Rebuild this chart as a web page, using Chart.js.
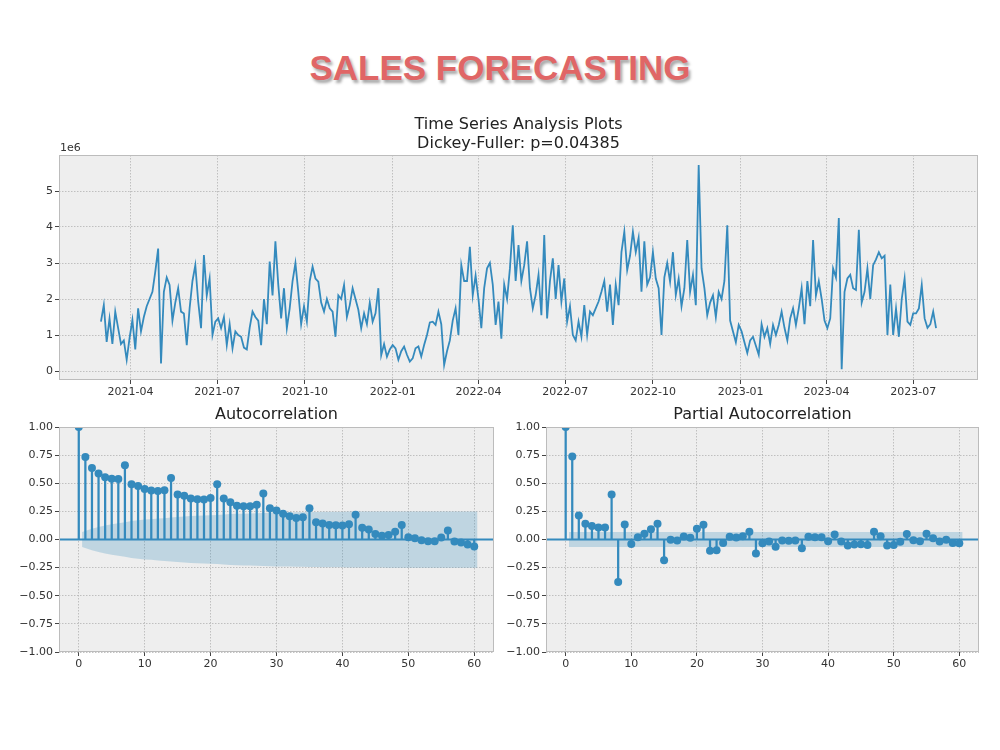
<!DOCTYPE html>
<html>
<head>
<meta charset="utf-8">
<script src="https://cdn.jsdelivr.net/npm/chart.js@4.4.1/dist/chart.umd.min.js"></script>
<style>
body{margin:0;background:#fff;width:1000px;height:750px;position:relative;overflow:hidden;font-family:"DejaVu Sans",sans-serif;}
#mainTitle{position:absolute;left:0;top:47px;width:1000px;line-height:42px;text-align:center;font-family:"Liberation Sans",Arial,sans-serif;font-weight:bold;font-size:35px;color:#e06666;text-shadow:2px 3px 3px rgba(0,0,0,0.35);}
canvas{position:absolute;}
</style>
</head>
<body>
<div id="mainTitle">SALES FORECASTING</div>
<canvas id="tsChart" width="1000" height="310" style="left:0;top:100px"></canvas>
<canvas id="acfChart" width="500" height="290" style="left:0;top:400px"></canvas>
<canvas id="pacfChart" width="500" height="290" style="left:500px;top:400px"></canvas>
<script>
// daily sales (in millions), sampled every 3 days from 2021-03-01
const startDate = '2021-03-01';
const stepDays = 3;
const sales = [
  1.37, 1.83, 0.81, 1.46, 0.75, 1.65, 1.2, 0.75, 0.85, 0.31,
  0.91, 1.42, 0.6, 1.74, 1.1, 1.5, 1.8, 2.0, 2.2, 2.76,
  3.4, 0.21, 2.2, 2.6, 2.39, 1.4, 1.9, 2.3, 1.65, 1.6,
  0.72, 1.74, 2.5, 2.94, 1.93, 1.19, 3.22, 2.1, 2.57, 1.0,
  1.37, 1.46, 1.19, 1.5, 0.72, 1.3, 0.63, 1.1, 1.0,
  0.95, 0.65, 0.6, 1.2, 1.65, 1.5, 1.4, 0.72, 2.0, 1.3,
  3.04, 2.1, 3.6, 2.4, 1.46, 2.3, 1.19, 1.74, 2.5, 3.0,
  2.2, 1.3, 1.8, 1.37, 2.5, 2.9, 2.57, 2.48, 1.9, 1.65,
  2.0, 1.74, 1.65, 0.95, 2.1, 2.0, 2.39, 1.5, 1.83, 2.3,
  2.0, 1.7, 1.19, 1.6, 1.3, 1.9, 1.37, 1.6, 2.3, 0.44,
  0.75, 0.4, 0.6, 0.72, 0.63, 0.31, 0.55, 0.68, 0.45, 0.26,
  0.35, 0.63, 0.68, 0.4, 0.72, 1.0, 1.35, 1.37, 1.28, 1.65,
  1.3, 0.17, 0.55, 0.85, 1.4, 1.74, 1.0, 2.94, 2.5, 2.5,
  3.45, 2.1, 2.65, 2.0, 1.19, 2.3, 2.85, 3.0, 2.4, 1.28,
  1.93, 0.9, 2.4, 2.0, 2.85, 4.05, 2.5, 3.5, 2.5, 2.94,
  3.6, 2.3, 1.74, 2.11, 2.67, 1.55, 3.78, 1.46, 2.5, 3.13,
  2.0, 2.94, 1.93, 2.57, 1.37, 1.8, 1.0, 0.85, 1.37, 0.95,
  1.83, 1.0, 1.65, 1.55, 1.74, 1.93, 2.2, 2.5, 1.65, 2.4,
  1.28, 2.4, 1.83, 3.3, 3.87, 2.8, 3.2, 3.87, 3.3, 3.7,
  2.2, 3.6, 2.4, 2.6, 3.3, 2.57, 2.3, 1.0, 2.6, 3.0,
  2.48, 3.3, 2.11, 2.57, 1.8, 2.3, 3.64, 2.2, 2.67, 1.83,
  5.72, 2.85, 2.3, 1.55, 1.9, 2.1, 1.5, 2.2, 2.0, 2.5,
  4.05, 1.4, 1.1, 0.8, 1.28, 1.1, 0.8, 0.5, 0.85, 0.95,
  0.7, 0.45, 1.3, 0.95, 1.19, 0.75, 1.28, 1.0, 1.28, 1.65,
  1.2, 0.85, 1.46, 1.74, 1.28, 1.74, 2.3, 1.3, 2.5, 1.8,
  3.64, 2.1, 2.5, 2.0, 1.4, 1.19, 1.46, 2.85, 2.6, 4.25,
  0.05, 2.2, 2.57, 2.67, 2.3, 2.25, 3.92, 1.9, 2.2, 2.85,
  2.0, 2.94, 3.1, 3.3, 3.13, 3.2, 1.0, 2.4, 1.0, 1.74,
  0.95, 2.0, 2.57, 1.37, 1.28, 1.6, 1.6, 1.74, 2.39, 1.46,
  1.2, 1.3, 1.65, 1.19
];
const dateTicks = ['2021-04', '2021-07', '2021-10', '2022-01', '2022-04', '2022-07', '2022-10', '2023-01', '2023-04', '2023-07'];
const salesTicks = [0, 1, 2, 3, 4, 5];

const acf = [
  1.0, 0.734, 0.636, 0.586, 0.553, 0.541, 0.538, 0.66, 0.491, 0.476,
  0.45, 0.435, 0.432, 0.438, 0.547, 0.40, 0.388, 0.364, 0.358, 0.355,
  0.37, 0.491, 0.364, 0.331, 0.30, 0.296, 0.296, 0.308, 0.408, 0.278,
  0.257, 0.228, 0.207, 0.192, 0.198, 0.278, 0.154, 0.142, 0.13, 0.127,
  0.124, 0.136, 0.219, 0.104, 0.089, 0.05, 0.033, 0.041, 0.068, 0.13,
  0.021, 0.012, -0.006, -0.015, -0.015, 0.018, 0.08, -0.018, -0.027, -0.044,
  -0.062
];
// half width of the confidence band for lags 1..60
const acfBand = [
  0.066, 0.095, 0.112, 0.125, 0.135, 0.144, 0.153, 0.165, 0.171, 0.177,
  0.181, 0.186, 0.19, 0.195, 0.201, 0.205, 0.208, 0.211, 0.213, 0.216,
  0.218, 0.223, 0.226, 0.228, 0.23, 0.231, 0.233, 0.235, 0.238, 0.239,
  0.24, 0.241, 0.242, 0.243, 0.244, 0.245, 0.246, 0.246, 0.247, 0.247,
  0.248, 0.248, 0.249, 0.249, 0.249, 0.249, 0.25, 0.25, 0.25, 0.25,
  0.25, 0.25, 0.25, 0.25, 0.25, 0.25, 0.25, 0.25, 0.25, 0.25
];
const pacf = [
  1.0, 0.738, 0.214, 0.14, 0.119, 0.107, 0.107, 0.399, -0.378, 0.134,
  -0.039, 0.021, 0.051, 0.092, 0.14, -0.185, -0.003, -0.009, 0.027, 0.015,
  0.095, 0.131, -0.101, -0.095, -0.03, 0.024, 0.018, 0.03, 0.068, -0.125,
  -0.033, -0.018, -0.065, -0.009, -0.012, -0.009, -0.077, 0.024, 0.021, 0.021,
  -0.015, 0.045, -0.018, -0.054, -0.045, -0.042, -0.048, 0.068, 0.03, -0.054,
  -0.048, -0.021, 0.048, -0.006, -0.015, 0.051, 0.012, -0.018, -0.003, -0.03,
  -0.033
];
const pacfBand = 0.066;
const lagTicks = [0, 10, 20, 30, 40, 50, 60];
const corrTicks = [-1, -0.75, -0.5, -0.25, 0, 0.25, 0.5, 0.75, 1];

const blue = '#348ABD';
const tickFont = {family: 'DejaVu Sans', size: 11};
const titleFont = {family: 'DejaVu Sans', size: 16, weight: 'normal', lineHeight: 1.2};

const toDay = s => {
  const p = s.split('-').map(Number);
  return Date.UTC(p[0], p[1] - 1, p[2] || 1) / 864e5;
};

const bmh = {
  id: 'bmh',
  beforeDraw(chart) {
    const {ctx, chartArea: a} = chart;
    ctx.save();
    ctx.fillStyle = '#eeeeee';
    ctx.fillRect(a.left, a.top, a.right - a.left, a.bottom - a.top);
    ctx.restore();
  },
  afterDatasetsDraw(chart, args, opts) {
    const {ctx, chartArea: a} = chart;
    if (opts.zeroLine) {
      const y = chart.scales.y.getPixelForValue(0);
      ctx.save();
      ctx.strokeStyle = blue;
      ctx.lineWidth = 2;
      ctx.beginPath();
      ctx.moveTo(a.left, y);
      ctx.lineTo(a.right, y);
      ctx.stroke();
      ctx.restore();
    }
  },
  afterDraw(chart, args, opts) {
    const {ctx, chartArea: a} = chart;
    ctx.save();
    ctx.strokeStyle = '#bcbcbc';
    ctx.lineWidth = 1;
    ctx.strokeRect(a.left + 0.5, a.top + 0.5, a.right - a.left - 1, a.bottom - a.top - 1);
    if (opts.offsetText) {
      ctx.fillStyle = '#333';
      ctx.font = '11px "DejaVu Sans"';
      ctx.textBaseline = 'middle';
      ctx.fillText(opts.offsetText, a.left + 1, a.top - 7);
    }
    ctx.restore();
  }
};

function axisStyle(extra) {
  return Object.assign({
    grid: {color: '#b2b2b2', lineWidth: 0.8, offset: false, tickColor: '#444', tickLength: 4, tickWidth: 1},
    border: {display: false, dash: [1.5, 1.5]},
    ticks: {font: tickFont, color: '#333', padding: 2, maxRotation: 0, autoSkip: false}
  }, extra);
}

// time series
const t0 = toDay(startDate);
const salesPts = sales.map((v, i) => ({x: t0 + i * stepDays, y: v}));
const tLast = salesPts[salesPts.length - 1].x;

new Chart(document.getElementById('tsChart'), {
  type: 'line',
  data: {
    datasets: [{
      data: salesPts,
      borderColor: blue,
      borderWidth: 1.8,
      pointRadius: 0,
      tension: 0
    }]
  },
  options: {
    responsive: false,
    animation: false,
    layout: {padding: {left: 0, right: 22, top: 0, bottom: 0}},
    scales: {
      x: axisStyle({
        type: 'linear',
        min: t0 - 44,
        max: tLast + 44,
        afterBuildTicks: s => { s.ticks = dateTicks.map(d => ({value: toDay(d)})); },
        ticks: {font: tickFont, color: '#333', padding: 2, maxRotation: 0, autoSkip: false,
          callback: (v, i) => dateTicks[i]},
        afterFit: s => { s.height = 30; }
      }),
      y: axisStyle({
        min: -0.25,
        max: 6.0,
        afterBuildTicks: s => { s.ticks = salesTicks.map(v => ({value: v})); },
        afterFit: s => { s.width = 59; }
      })
    },
    plugins: {
      legend: {display: false},
      tooltip: {enabled: false},
      title: {
        display: true,
        fullSize: false,
        text: ['Time Series Analysis Plots', 'Dickey-Fuller: p=0.04385'],
        font: titleFont,
        color: '#222',
        padding: {top: 15, bottom: 1.6}
      },
      bmh: {offsetText: '1e6'}
    }
  },
  plugins: [bmh]
});

// correlation plots
function corrChart(id, title, values, band, rightPad, yWidth) {
  const n = values.length - 1;
  const bandPts = band.map((b, i) => {
    let x = i + 1;
    if (i === 0) x -= 0.5;
    if (i === band.length - 1) x += 0.5;
    return {x: x, b: b};
  });
  new Chart(document.getElementById(id), {
    type: 'bar',
    data: {
      datasets: [
        {
          type: 'line',
          data: bandPts.map(p => ({x: p.x, y: p.b})),
          borderWidth: 0,
          pointRadius: 0,
          fill: '+1',
          backgroundColor: 'rgba(52,138,189,0.25)',
          order: 10
        },
        {
          type: 'line',
          data: bandPts.map(p => ({x: p.x, y: -p.b})),
          borderWidth: 0,
          pointRadius: 0,
          fill: false,
          order: 9
        },
        {
          type: 'bar',
          data: values.map((v, i) => ({x: i, y: v})),
          backgroundColor: blue,
          barThickness: 1.6,
          borderWidth: 0,
          order: 5
        },
        {
          type: 'line',
          data: values.map((v, i) => ({x: i, y: v})),
          showLine: false,
          pointRadius: 4,
          pointBackgroundColor: blue,
          pointBorderWidth: 0,
          clip: 0,
          order: 1
        }
      ]
    },
    options: {
      responsive: false,
      animation: false,
      layout: {padding: {left: 0, right: rightPad, top: 0, bottom: 0}},
      scales: {
        x: axisStyle({
          type: 'linear',
          offset: false,
          min: -3,
          max: n + 3,
          afterBuildTicks: s => { s.ticks = lagTicks.map(v => ({value: v})); },
          afterFit: s => { s.height = 38; }
        }),
        y: axisStyle({
          min: -1,
          max: 1,
          afterBuildTicks: s => { s.ticks = corrTicks.map(v => ({value: v})); },
          ticks: {font: tickFont, color: '#333', padding: 2,
            callback: v => v.toFixed(2).replace('-', '\u2212')},
          afterFit: s => { s.width = yWidth; }
        })
      },
      plugins: {
        legend: {display: false},
        tooltip: {enabled: false},
        title: {
          display: true,
          fullSize: false,
          text: title,
          font: titleFont,
          color: '#222',
          padding: {top: 5, bottom: 2.8}
        },
        bmh: {zeroLine: true}
      }
    },
    plugins: [bmh]
  });
}

corrChart('acfChart', 'Autocorrelation', acf, acfBand, 6, 59);
corrChart('pacfChart', 'Partial Autocorrelation', pacf, pacf.slice(1).map(() => pacfBand), 21, 46);
</script>
</body>
</html>
